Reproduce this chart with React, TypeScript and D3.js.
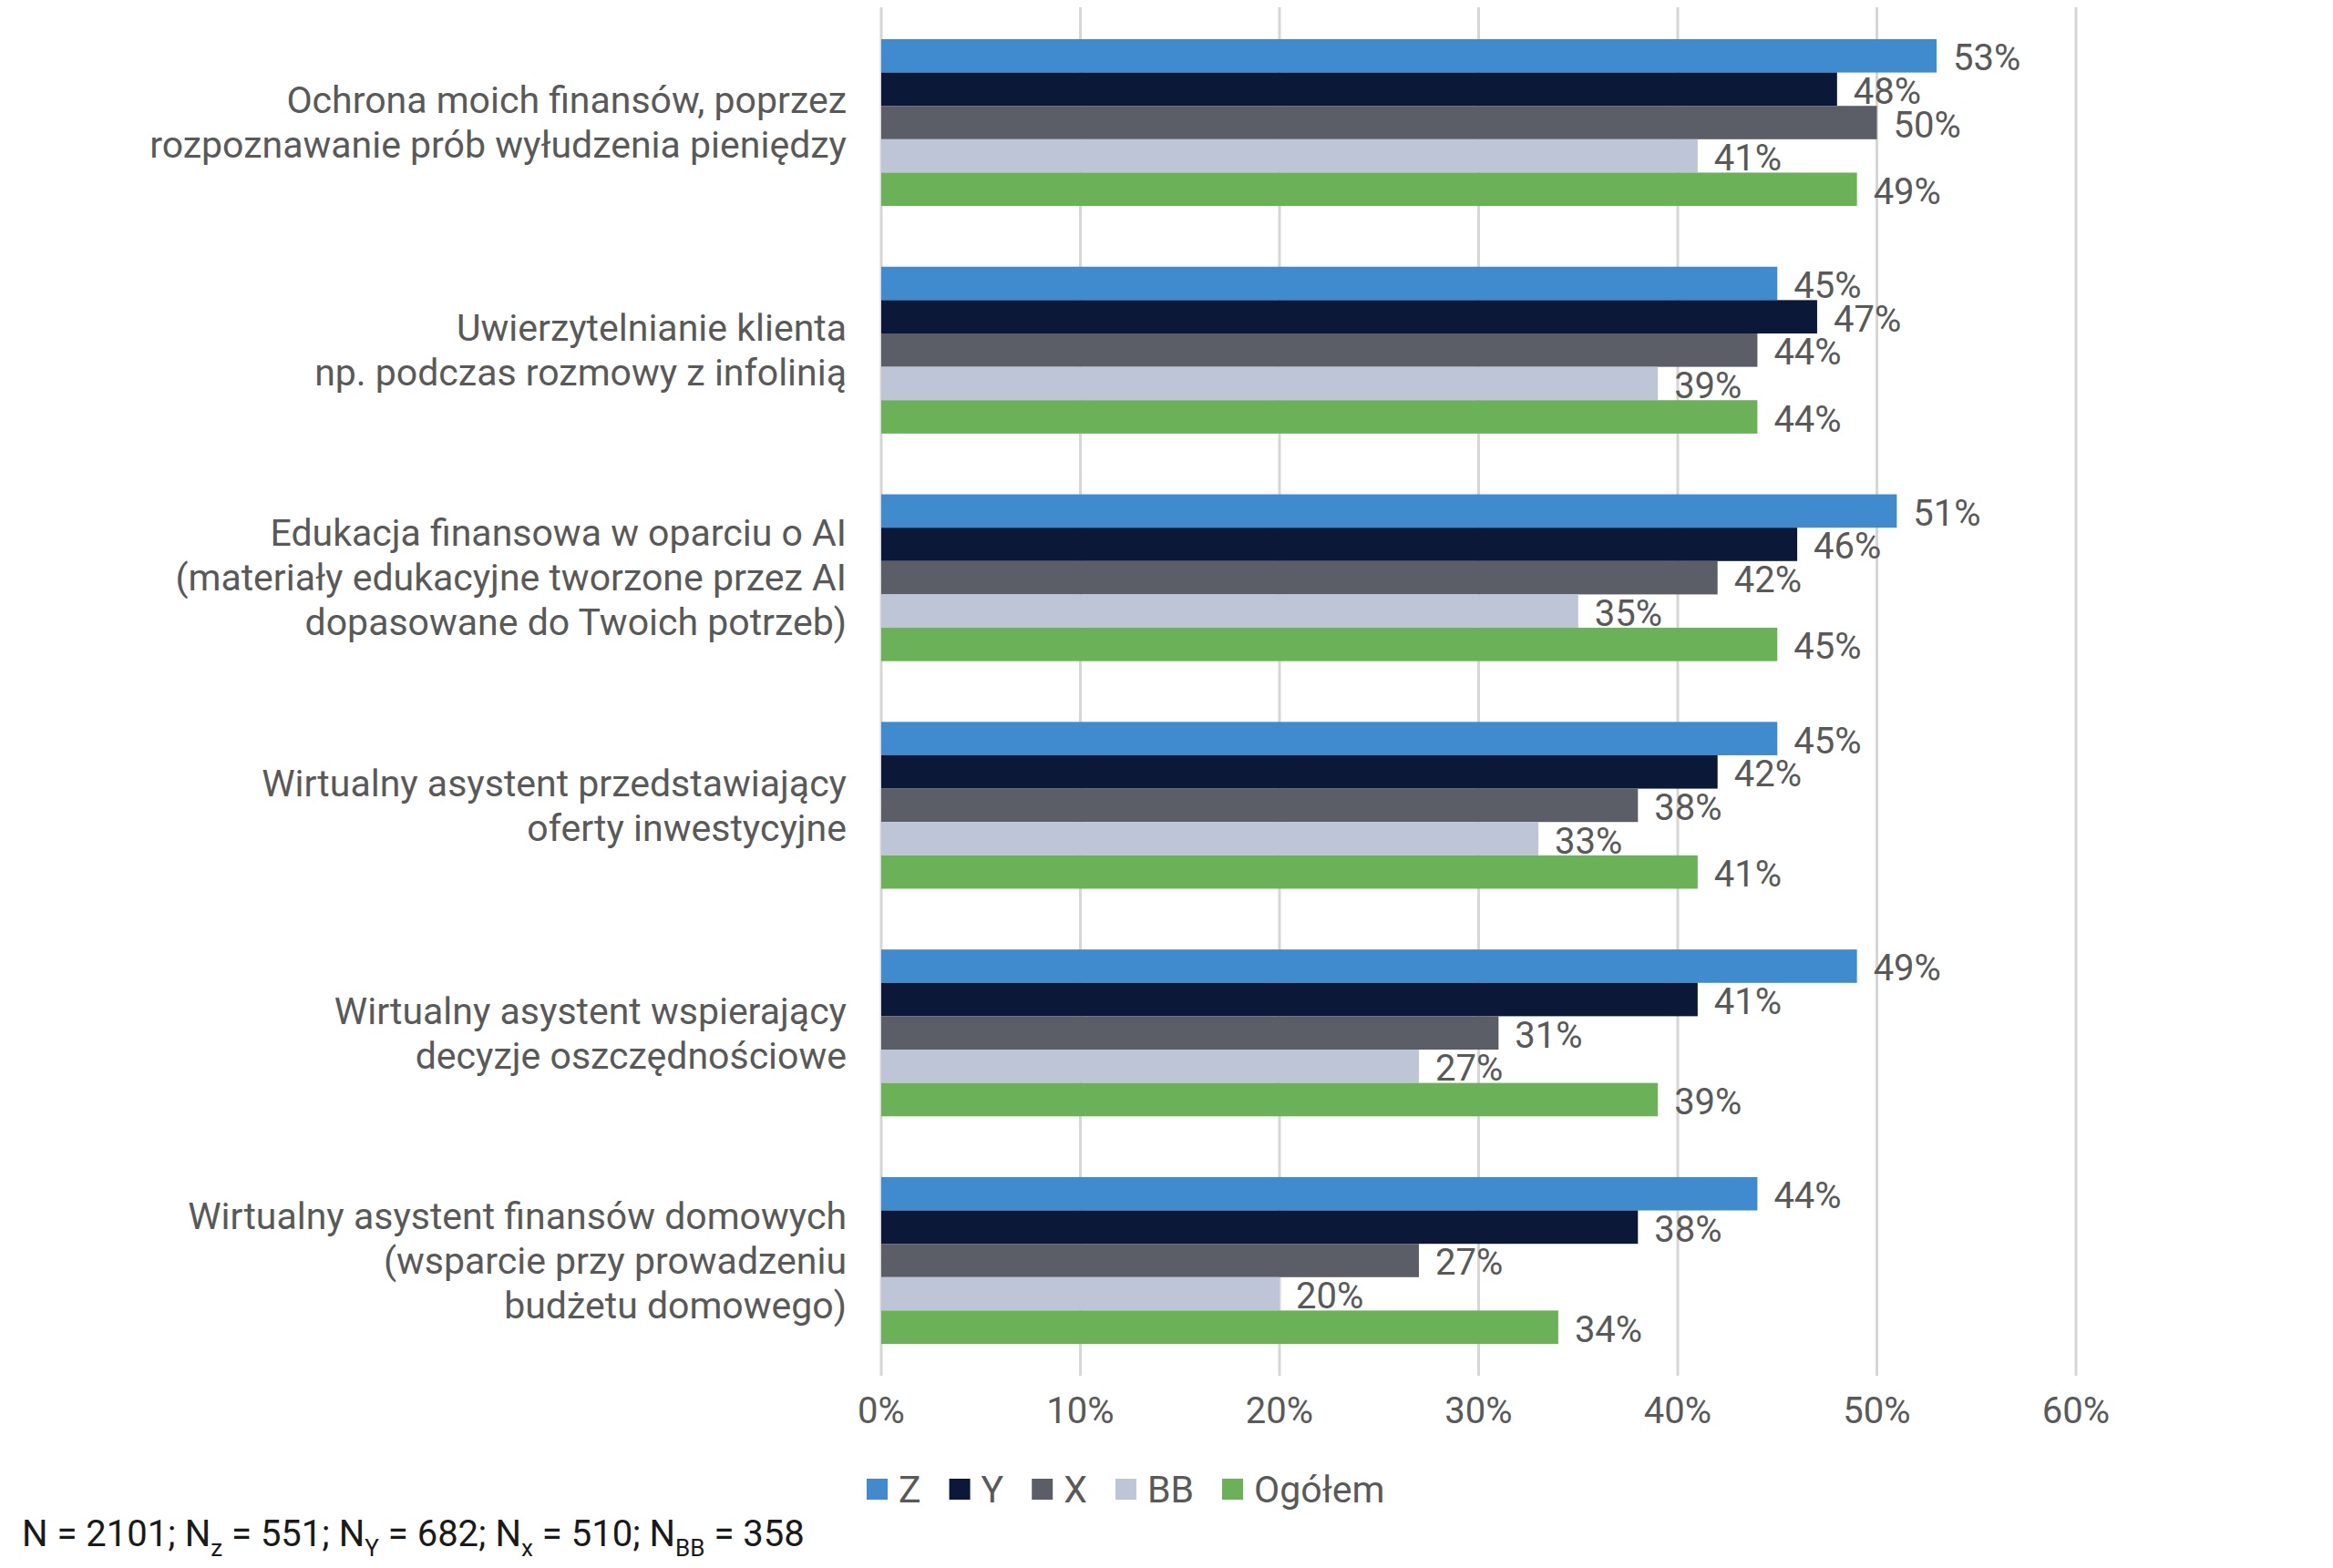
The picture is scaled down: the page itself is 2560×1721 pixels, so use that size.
import React, { useEffect, useRef } from 'react';
import * as d3 from 'd3';

const categories = [
  ['Ochrona moich finansów, poprzez', 'rozpoznawanie prób wyłudzenia pieniędzy'],
  ['Uwierzytelnianie klienta', 'np. podczas rozmowy z infolinią'],
  ['Edukacja finansowa w oparciu o AI', '(materiały edukacyjne tworzone przez AI', 'dopasowane do Twoich potrzeb)'],
  ['Wirtualny asystent przedstawiający', 'oferty inwestycyjne'],
  ['Wirtualny asystent wspierający', 'decyzje oszczędnościowe'],
  ['Wirtualny asystent finansów domowych', '(wsparcie przy prowadzeniu', 'budżetu domowego)'],
];

const seriesNames = ['Z', 'Y', 'X', 'BB', 'Ogółem'];
const seriesColors = ['#3f8bcd', '#0b1838', '#5b5e66', '#bdc5d6', '#6bb157'];

const zValues = [53, 45, 51, 45, 49, 44];
const yValues = [48, 47, 46, 42, 41, 38];
const xValues = [50, 44, 42, 38, 31, 27];
const bbValues = [41, 39, 35, 33, 27, 20];
const totalValues = [49, 44, 45, 41, 39, 34];

const xTicks = [0, 10, 20, 30, 40, 50, 60];

// [normal text, subscript]
const footnote: [string, string][] = [
  ['N = 2101; N', 'z'],
  [' = 551; N', 'Y'],
  [' = 682; N', 'x'],
  [' = 510; N', 'BB'],
  [' = 358', ''],
];

const W = 2560;
const H = 1721;
const FONT = 'Roboto, "Noto Sans", sans-serif';
const TEXT = '#595959';

export default function App() {
  const svgRef = useRef<SVGSVGElement>(null);

  useEffect(() => {
    if (!svgRef.current) return;
    const svg = d3.select(svgRef.current);
    svg.selectAll('*').remove();

    const allSeries = [zValues, yValues, xValues, bbValues, totalValues];
    const rows = categories.map((lines, i) => ({
      id: String(i),
      lines,
      values: allSeries.map((s, k) => ({ key: seriesNames[k], value: s[i] })),
    }));

    const top = 8;
    const bottom = 1510;
    const x = d3.scaleLinear().domain([0, 60]).range([967, 2278]);
    const y = d3
      .scaleBand()
      .domain(rows.map(r => r.id))
      .range([top, bottom])
      .paddingInner(0.267)
      .paddingOuter(0.14);
    const inner = d3.scaleBand().domain(seriesNames).range([0, y.bandwidth()]);
    const color = d3.scaleOrdinal<string>().domain(seriesNames).range(seriesColors);

    // gridlines
    svg
      .append('g')
      .selectAll('line')
      .data(xTicks)
      .enter()
      .append('line')
      .attr('x1', d => x(d))
      .attr('x2', d => x(d))
      .attr('y1', top)
      .attr('y2', bottom)
      .attr('stroke', '#d6d6d6')
      .attr('stroke-width', 3);

    // axis labels
    svg
      .append('g')
      .selectAll('text')
      .data(xTicks)
      .enter()
      .append('text')
      .attr('x', d => x(d))
      .attr('y', 1548)
      .attr('dy', '0.35em')
      .attr('text-anchor', 'middle')
      .attr('font-family', FONT)
      .attr('font-size', 40)
      .attr('fill', TEXT)
      .text(d => `${d}%`);

    const groups = svg
      .append('g')
      .selectAll('g')
      .data(rows)
      .enter()
      .append('g')
      .attr('transform', d => `translate(0,${y(d.id)})`);

    groups
      .selectAll('rect')
      .data(d => d.values)
      .enter()
      .append('rect')
      .attr('x', x(0))
      .attr('y', d => inner(d.key) || 0)
      .attr('width', d => x(d.value) - x(0))
      .attr('height', inner.bandwidth())
      .attr('fill', d => color(d.key));

    groups
      .selectAll('text.val')
      .data(d => d.values)
      .enter()
      .append('text')
      .attr('class', 'val')
      .attr('x', d => x(d.value) + 18)
      .attr('y', d => (inner(d.key) || 0) + inner.bandwidth() / 2 + 2)
      .attr('dy', '0.35em')
      .attr('font-family', FONT)
      .attr('font-size', 40)
      .attr('fill', TEXT)
      .text(d => `${d.value}%`);

    // category labels
    const lineH = 49;
    groups
      .append('text')
      .attr('text-anchor', 'end')
      .attr('font-family', FONT)
      .attr('font-size', 41)
      .attr('fill', TEXT)
      .each(function (d) {
        const t = d3.select(this);
        const n = d.lines.length;
        d.lines.forEach((line, j) => {
          t.append('tspan')
            .attr('x', 929)
            .attr('y', y.bandwidth() / 2 + (j - (n - 1) / 2) * lineH)
            .attr('dy', '0.35em')
            .text(line);
        });
      });

    // legend
    const legend = svg.append('g').attr('transform', 'translate(951,1635)');
    let cx = 0;
    seriesNames.forEach(name => {
      const item = legend.append('g').attr('transform', `translate(${cx},0)`);
      item
        .append('rect')
        .attr('x', 0)
        .attr('y', -12)
        .attr('width', 23)
        .attr('height', 23)
        .attr('fill', color(name));
      const label = item
        .append('text')
        .attr('x', 35)
        .attr('y', 0)
        .attr('dy', '0.35em')
        .attr('font-family', FONT)
        .attr('font-size', 41)
        .attr('fill', TEXT)
        .text(name);
      const w = (label.node() as SVGTextElement).getComputedTextLength();
      cx += 35 + w + 31;
    });

    // footnote
    const note = svg
      .append('text')
      .attr('x', 24)
      .attr('y', 1697)
      .attr('font-family', FONT)
      .attr('font-size', 40)
      .attr('fill', '#1a1a1a');
    let shift = 0;
    footnote.forEach(([main, sub]) => {
      note.append('tspan').attr('dy', -shift).text(main);
      shift = 0;
      if (sub) {
        note.append('tspan').attr('dy', 11).attr('font-size', 26).text(sub);
        shift = 11;
      }
    });
  }, []);

  return (
    <svg
      ref={svgRef}
      width={W}
      height={H}
      style={{ position: 'absolute', left: 0, top: 0, background: '#fff', display: 'block' }}
    />
  );
}
